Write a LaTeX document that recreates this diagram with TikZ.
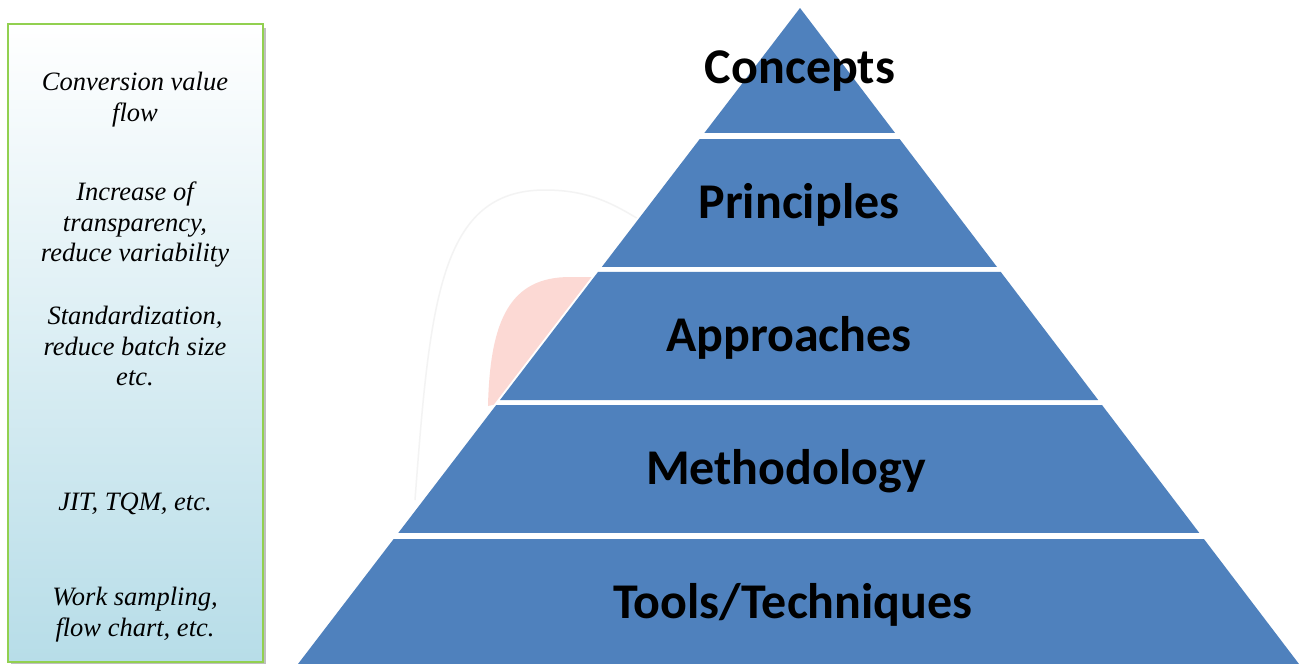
\documentclass[tikz,border=0pt]{standalone}
\usepackage{fontspec}
\setmainfont{Liberation Serif}
\newfontfamily\labelfont{Carlito}
\usetikzlibrary{calc}
\definecolor{pyrblue}{RGB}{79,129,189}
\definecolor{boxgreen}{RGB}{146,208,80}
\definecolor{boxtop}{RGB}{255,255,255}
\definecolor{boxbot}{RGB}{183,221,232}
\definecolor{pinkblob}{RGB}{252,217,212}
\definecolor{faintgray}{RGB}{243,243,243}
\tikzset{
  layerfill/.style={fill=pyrblue},
  layerlabel/.style={font=\labelfont\bfseries\fontsize{50}{56}\selectfont, anchor=base, inner sep=0pt},
  sidetext/.style={font=\fontsize{26.5}{31}\selectfont\itshape, anchor=base, inner sep=0pt},
}
\newcommand\pyrlayer[2]{%
  \fill[layerfill] ($(apex)!#1!(bl)$) -- ($(apex)!#1!(br)$) -- ($(apex)!#2!(br)$) -- ($(apex)!#2!(bl)$) -- cycle;}
\begin{document}
\begin{tikzpicture}[x=1pt,y=-1pt]
\useasboundingbox (0,0) rectangle (1299,664);
\fill[white] (0,0) rectangle (1299,664);
% left box
\fill[black!25] (11,28) rectangle (266,666);
\shade[top color=boxtop, bottom color=boxbot, draw=boxgreen, line width=2.5pt] (8,24) rectangle (263,662);
\node[sidetext] (t1a) at (135,90.7) {Conversion value};
\node[sidetext] (t1b) at (135,121.5) {flow};
\node[sidetext] (t2a) at (135,200.5) {Increase of};
\node[sidetext] (t2b) at (135,231) {transparency,};
\node[sidetext] (t2c) at (135,261.5) {reduce variability};
\node[sidetext] (t3a) at (135,324.5) {Standardization,};
\node[sidetext] (t3b) at (135,355) {reduce batch size};
\node[sidetext] (t3c) at (135,385.5) {etc.};
\node[sidetext] (t4a) at (135,510.7) {JIT, TQM, etc.};
\node[sidetext] (t5a) at (135,605) {Work sampling,};
\node[sidetext] (t5b) at (135,636) {flow chart, etc.};
% pyramid geometry
\coordinate (apex) at (800,8);
\coordinate (bl) at (298,664);
\coordinate (br) at (1299,664);
% faint background decorations
\draw[faintgray, line width=1.5pt] (415,500) .. controls (430,300) and (440,190) .. (545,190) .. controls (590,190) and (615,205) .. (640,220);
\fill[pinkblob] (488,406) .. controls (490,320) and (510,277) .. (570,277) -- (596,277) -- (497,404) -- cycle;
\draw[white, line width=4pt, line join=miter] (apex) -- (bl) -- (br) -- cycle;
% layers
\pyrlayer{0}{0.1905}
\pyrlayer{0.1997}{0.3948}
\pyrlayer{0.4024}{0.5976}
\pyrlayer{0.6052}{0.8003}
\pyrlayer{0.8095}{1}
\node[layerlabel] (l1) at (800,83) {Concepts};
\node[layerlabel] (l2) at (799,218) {Principles};
\node[layerlabel] (l3) at (789,351) {Approaches};
\node[layerlabel] (l4) at (786,484) {Methodology};
\node[layerlabel] (l5) at (793,618) {Tools/Techniques};
\end{tikzpicture}
\end{document}
